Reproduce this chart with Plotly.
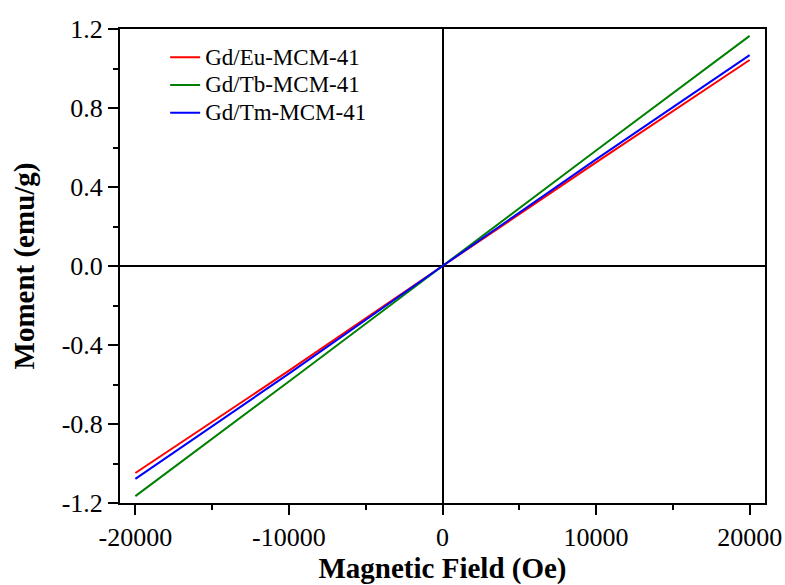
import plotly.graph_objects as go

field = [-20000, -10000, 0, 10000, 20000]
moment_eu = [-1.048, -0.530, 0.0, 0.525, 1.043]
moment_tb = [-1.165, -0.585, 0.0, 0.585, 1.165]
moment_tm = [-1.078, -0.545, 0.0, 0.540, 1.068]

series_names = ["Gd/Eu-MCM-41", "Gd/Tb-MCM-41", "Gd/Tm-MCM-41"]
series_colors = ["#ff0000", "#008000", "#0000ff"]

x_tickvals = [-20000, -10000, 0, 10000, 20000]
x_ticktext = ["-20000", "-10000", "0", "10000", "20000"]
y_tickvals = [-1.2, -0.8, -0.4, 0.0, 0.4, 0.8, 1.2]
y_ticktext = ["-1.2", "-0.8", "-0.4", "0.0", "0.4", "0.8", "1.2"]

fig = go.Figure()
for name, col, ys in zip(series_names, series_colors, [moment_eu, moment_tb, moment_tm]):
    fig.add_trace(go.Scatter(x=field, y=ys, mode="lines",
                             name='<span style="font-size:23px">' + name + '</span>',
                             line=dict(color=col, width=2)))

font_family = "Liberation Serif, Times New Roman, serif"
axis_common = dict(
    showgrid=False, automargin=False,
    showline=True, linecolor="black", linewidth=2, mirror=True,
    ticks="outside", ticklen=10, tickwidth=2, tickcolor="black",
    zeroline=True, zerolinecolor="black", zerolinewidth=2,
    tickfont=dict(family=font_family, size=26, color="black"),
)

fig.update_xaxes(
    range=[-21000, 21000],
    tickvals=x_tickvals, ticktext=x_ticktext,
    minor=dict(ticks="outside", ticklen=5, tickwidth=2, tickcolor="black", dtick=5000, showgrid=False),
    title=dict(text="<b>Magnetic Field (Oe)</b>", font=dict(family=font_family, size=29, color="black"), standoff=21),
    **axis_common,
)
fig.update_yaxes(
    range=[-1.2, 1.2],
    tickvals=y_tickvals, ticktext=y_ticktext,
    minor=dict(ticks="outside", ticklen=5, tickwidth=2, tickcolor="black", dtick=0.2, showgrid=False),
    title=dict(text="<b>Moment (emu/g)</b>", font=dict(family=font_family, size=29, color="black"), standoff=18),
    **axis_common,
)

fig.update_layout(
    width=785, height=585,
    margin=dict(l=120, r=20, t=29, b=82),
    paper_bgcolor="white", plot_bgcolor="white",
    showlegend=True,
    legend=dict(x=0.070, y=0.98, xanchor="left", yanchor="top",
                bgcolor="rgba(0,0,0,0)", borderwidth=0,
                font=dict(family=font_family, size=19, color="black"),
                tracegroupgap=0),
)

fig.write_html(
    "out.html",
    config={"displayModeBar": False},
    post_script="document.body.style.margin='0';document.body.style.overflow='hidden';",
)
